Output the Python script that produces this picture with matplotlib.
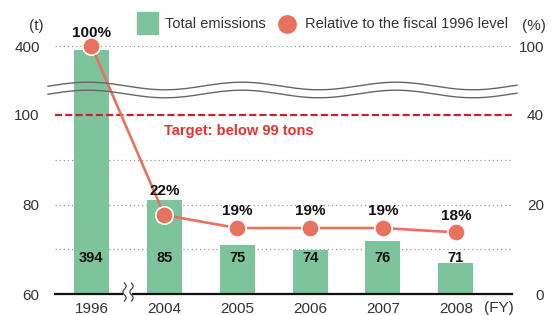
import numpy as np
import matplotlib.pyplot as plt
from matplotlib.patches import Rectangle

plt.rcParams['font.family'] = ['Liberation Sans', 'DejaVu Sans']

# --- data ---
years = ['1996', '2004', '2005', '2006', '2007', '2008']
emissions = [394, 85, 75, 74, 76, 71]          # tons
relative = [100, 22, 19, 19, 19, 18]           # % of fiscal 1996
left_ticks = [60, 80, 100, 400]
left_labels = ['60', '80', '100', '400']
right_labels = ['0', '20', '40', '100']
grid_levels = [70, 80, 90, 400]
target = 100

BAR_C = '#7dc49d'
LINE_C = '#e8725e'
TXT_C = '#333333'

# broken axis: piecewise scales (values -> pixel height above baseline)
# the original drawing puts bars and line on slightly different scales than the ticks
tons_v = [0, 60, 100, 300, 400, 1000]
tons_h = [-268.5, 0, 179, 181, 248, 648]
bar_v = [0, 64.1, 100, 300, 400, 1000]
bar_h = [-286.8, 0, 160.7, 181.3, 248, 648]
pct_v = [-100, 0, 40, 100, 300]
pct_h = [-449.3, -16.3, 156.9, 248, 552]


def make_scale(vs, hs):
    return (lambda v: np.interp(v, vs, hs)), (lambda h: np.interp(h, hs, vs))


W, H = 555, 315
fig = plt.figure(figsize=(W / 100, H / 100), dpi=100)
ax = fig.add_axes([55 / W, 1 - 294 / H, 457 / W, 248 / H])
x = np.arange(len(years))
base = 60

ax.set_yscale('function', functions=make_scale(tons_v, tons_h))
ax.set_ylim(60, 400)
ax.set_xlim(-0.5, 5.77)

# grid (behind bars)
for g in grid_levels:
    ax.axhline(g, color='#999999', lw=0.9, ls=(0, (1, 2.3)), zorder=0)

for s in ax.spines.values():
    s.set_visible(False)
ax.set_yticks(left_ticks)
ax.set_yticklabels(left_labels)
ax.set_xticks(x)
ax.set_xticklabels(years)
ax.tick_params(length=0, colors=TXT_C, labelsize=11)
ax.tick_params(axis='y', pad=11)
ax.tick_params(axis='x', pad=6)
ax.yaxis.set_minor_locator(plt.NullLocator())

# bars
axb = ax.twinx()
axb.set_yscale('function', functions=make_scale(bar_v, bar_h))
axb.set_ylim(64.1, 400)
axb.set_axis_off()
b0 = bar_v[1]
axb.bar(x, np.array(emissions) - b0, width=0.48, bottom=b0, color=BAR_C)

# right axis (%), target, baseline, value labels
axr = ax.twinx()
axr.set_yscale('function', functions=make_scale(tons_v, tons_h))
axr.set_ylim(60, 400)
axr.set_yticks(left_ticks)
axr.set_yticklabels(right_labels)
axr.yaxis.set_minor_locator(plt.NullLocator())
axr.tick_params(length=0, colors=TXT_C, labelsize=11, pad=23)
for lbl in axr.get_yticklabels():
    lbl.set_ha('right')
for s in axr.spines.values():
    s.set_visible(False)

axr.axhline(target, color='#c1272d', lw=1.6, ls=(0, (3.2, 1.4)))
axr.text(0.99, 96.5, 'Target: below 99 tons', color='#e8312f', fontsize=10.5,
         fontweight='bold', va='center', ha='left')
for xi, v in zip(x, emissions):
    axr.text(xi, 68, str(v), ha='center', va='center', fontsize=10.5,
             fontweight='bold', color='#111111')

# baseline with a gap for the break
axr.plot([-0.5, 0.42], [base, base], color='#111111', lw=1.6, clip_on=False)
axr.plot([0.57, 5.77], [base, base], color='#111111', lw=1.6, clip_on=False)

# line axis
axl = ax.twinx()
axl.set_yscale('function', functions=make_scale(pct_v, pct_h))
axl.set_ylim(np.interp(0, pct_h, pct_v), 100)
axl.set_axis_off()
axl.plot(x, relative, color=LINE_C, lw=1.9, marker='o', ms=12.5,
         mfc=LINE_C, mec='white', mew=1.2, clip_on=False, zorder=3)
pct_offsets = [4, 12.5, 7.5, 7.5, 7.5, 7]
for xi, p, off in zip(x, relative, pct_offsets):
    axl.annotate(f'{p}%', (xi, p), xytext=(0, off), textcoords='offset points',
                 ha='center', va='bottom', fontsize=11, fontweight='bold',
                 color='#111111')

# wavy break across the plot
px = np.linspace(48, 517, 300)
wave = 86 - 3.8 * np.cos(2 * np.pi * (px - 88) / 154)
for dy in (0, 8):
    fig.add_artist(plt.Line2D(px / W, 1 - (wave + dy) / H, color='#666666',
                              lw=1.0, transform=fig.transFigure))

# small break marks on the baseline
py = np.linspace(283, 301, 40)
for x0 in (124.5, 131.5):
    sx = x0 + 1.6 * np.sin(2 * np.pi * (py - 283) / 12)
    fig.add_artist(plt.Line2D(sx / W, 1 - py / H, color='#444444', lw=0.9,
                              transform=fig.transFigure))

# unit labels
fig.text(36 / W, 1 - 26 / H, '(t)', ha='center', va='center', fontsize=11, color=TXT_C)
fig.text(534 / W, 1 - 26 / H, '(%)', ha='center', va='center', fontsize=11, color=TXT_C)
fig.text(499 / W, 1 - 308 / H, '(FY)', ha='center', va='center', fontsize=11, color=TXT_C)

# legend
fig.add_artist(Rectangle((137 / W, 1 - 34 / H), 21 / W, 22 / H, color=BAR_C,
                         transform=fig.transFigure))
fig.text(165 / W, 1 - 24 / H, 'Total emissions', ha='left', va='center',
         fontsize=10.5, color=TXT_C)
fig.add_artist(plt.Line2D([287 / W], [1 - 24 / H], marker='o', ms=12.5,
                          color=LINE_C, transform=fig.transFigure))
fig.text(305 / W, 1 - 24 / H, 'Relative to the fiscal 1996 level', ha='left',
         va='center', fontsize=10.5, color=TXT_C)

fig.savefig('out.png', dpi=100)
